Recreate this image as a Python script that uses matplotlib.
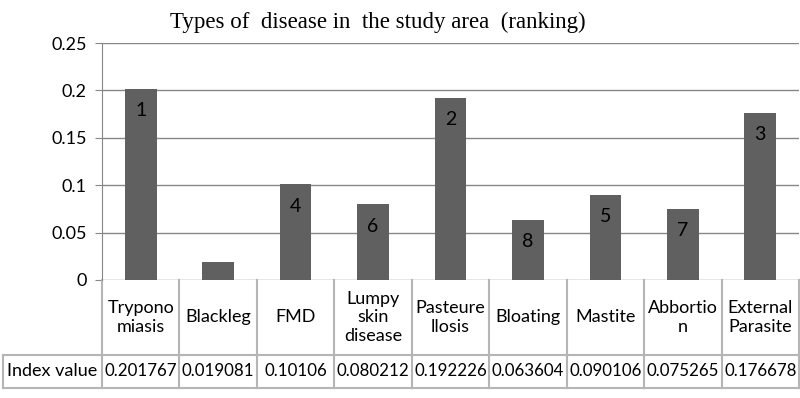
import matplotlib.pyplot as plt
import matplotlib.transforms as mtransforms

diseases = ['Trypono\nmiasis', 'Blackleg', 'FMD', 'Lumpy\nskin\ndisease', 'Pasteure\nllosis',
            'Bloating', 'Mastite', 'Abbortio\nn', 'External\nParasite']
index_value = [0.201767, 0.019081, 0.10106, 0.080212, 0.192226, 0.063604, 0.090106, 0.075265, 0.176678]
index_text = ['0.201767', '0.019081', '0.10106', '0.080212', '0.192226', '0.063604', '0.090106', '0.075265', '0.176678']
ranks = ['1', '', '4', '6', '2', '8', '5', '7', '3']
yticks = [0, 0.05, 0.1, 0.15, 0.2, 0.25]
ytick_labels = ['0', '0.05', '0.1', '0.15', '0.2', '0.25']

fnt = 'Lato'
fs = 13
line_c = '#878787'
tab_c = '#b5b5b5'

fig = plt.figure(figsize=(8, 3.98), dpi=100)
ax = fig.add_axes([102/800, 118/398, 697/800, 237/398])

n = len(index_value)
xs = list(range(n))
ax.bar(xs, index_value, width=0.41, color='#606060', zorder=3)
for x, v, r in zip(xs, index_value, ranks):
    ax.annotate(r, (x, v), xytext=(0, -16), textcoords='offset points',
                ha='center', va='center', fontsize=14, family=fnt, color='black', zorder=4)

ax.set_xlim(-0.5, n - 0.5)
ax.set_ylim(0, 0.25)
for t in yticks:
    ax.axhline(t, color=line_c, lw=1, zorder=1)
ax.set_yticks(yticks)
ax.set_yticklabels(ytick_labels, family=fnt, fontsize=fs)
ax.tick_params(axis='y', length=5, color=line_c, pad=6)
ax.set_xticks([])
for s in ['top', 'right', 'bottom']:
    ax.spines[s].set_visible(False)
ax.spines['left'].set_color(line_c)

# data table under the chart
tr = mtransforms.blended_transform_factory(ax.transData, ax.transAxes)
y_mid = -0.316
y_bot = -0.456
x_left = -1.776
for b in [i - 0.5 for i in range(n + 1)]:
    ax.plot([b, b], [0, y_bot], transform=tr, color=tab_c, lw=1.5, clip_on=False)
ax.plot([x_left, n - 0.5], [y_mid, y_mid], transform=tr, color=tab_c, lw=1.5, clip_on=False)
ax.plot([x_left, n - 0.5], [y_bot, y_bot], transform=tr, color=tab_c, lw=1.5, clip_on=False)
ax.plot([x_left, x_left], [y_mid, y_bot], transform=tr, color=tab_c, lw=1.5, clip_on=False)

for x, lab, vt in zip(xs, diseases, index_text):
    ax.text(x, y_mid / 2, lab, transform=tr, ha='center', va='center', fontsize=fs,
            family=fnt, linespacing=1.2)
    ax.text(x, (y_mid + y_bot) / 2, vt, transform=tr, ha='center', va='center',
            fontsize=12.2, family=fnt)
ax.text((x_left - 0.5) / 2, (y_mid + y_bot) / 2, 'Index value', transform=tr,
        ha='center', va='center', fontsize=fs, family=fnt)

fig.text(378/800, 1 - 22/398, 'Types of  disease in  the study area  (ranking)',
         ha='center', va='center', fontsize=16.5, family='Liberation Serif')

fig.savefig('out.png', dpi=100)
